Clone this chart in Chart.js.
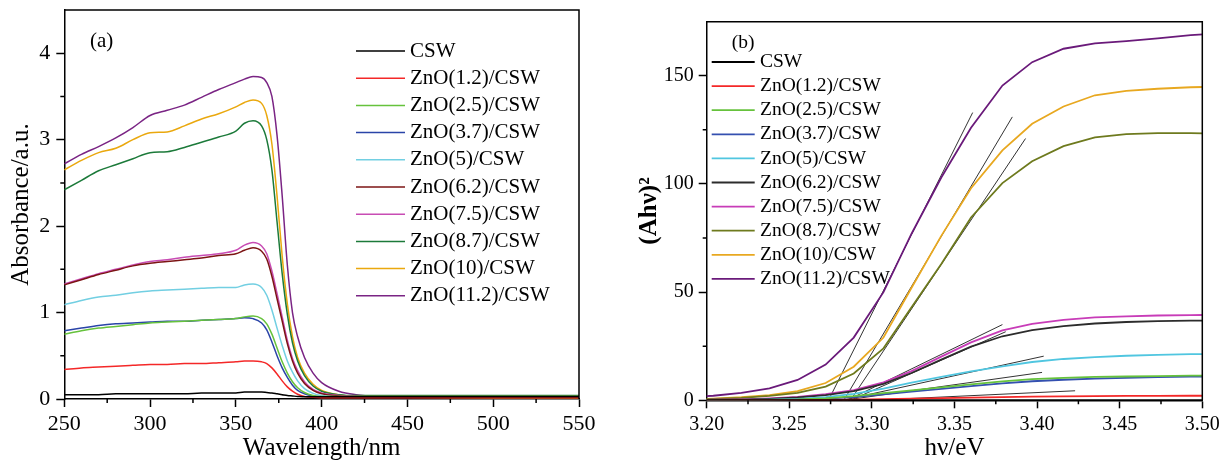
<!DOCTYPE html>
<html>
<head>
<meta charset="utf-8">
<script src="https://cdn.jsdelivr.net/npm/chart.js@4.4.1/dist/chart.umd.min.js"></script>
<style>
  html, body { margin: 0; padding: 0; background: #fff; }
  #wrapA { position: absolute; left: 0; top: 0; }
  #wrapB { position: absolute; left: 610px; top: 0; }
</style>
</head>
<body>
<div id="wrapA"><canvas id="chartA" width="610" height="464"></canvas></div>
<div id="wrapB"><canvas id="chartB" width="619" height="464"></canvas></div>
<script>
// sample names, shared by both panels
const sampleLabels = ["CSW", "ZnO(1.2)/CSW", "ZnO(2.5)/CSW", "ZnO(3.7)/CSW", "ZnO(5)/CSW",
  "ZnO(6.2)/CSW", "ZnO(7.5)/CSW", "ZnO(8.7)/CSW", "ZnO(10)/CSW", "ZnO(11.2)/CSW"]

// (a) UV-vis absorbance spectra
const wavelength = [250, 260, 270, 280, 290, 300, 310, 320, 330, 340,
  350, 355, 360, 365, 368, 371, 374, 377, 380, 383,
  386, 390, 395, 400, 410, 420, 435, 450, 500, 550]
const absCSW = [0.05, 0.05, 0.05, 0.06, 0.06, 0.06, 0.06, 0.06, 0.07, 0.07,
  0.07, 0.08, 0.08, 0.08, 0.075, 0.07, 0.06, 0.05, 0.04, 0.035,
  0.03, 0.025, 0.025, 0.025, 0.025, 0.025, 0.025, 0.025, 0.025, 0.025]
const abs12 = [0.34, 0.36, 0.37, 0.38, 0.39, 0.40, 0.40, 0.41, 0.41, 0.42,
  0.43, 0.44, 0.44, 0.43, 0.41, 0.36, 0.29, 0.21, 0.14, 0.09,
  0.055, 0.03, 0.02, 0.015, 0.015, 0.015, 0.015, 0.015, 0.015, 0.015]
const abs25 = [0.75, 0.79, 0.82, 0.84, 0.86, 0.88, 0.89, 0.90, 0.91, 0.92,
  0.93, 0.95, 0.96, 0.93, 0.87, 0.75, 0.59, 0.43, 0.30, 0.20,
  0.13, 0.075, 0.04, 0.03, 0.03, 0.03, 0.03, 0.03, 0.03, 0.03]
const abs37 = [0.79, 0.82, 0.85, 0.87, 0.88, 0.89, 0.90, 0.90, 0.91, 0.92,
  0.93, 0.94, 0.93, 0.88, 0.80, 0.66, 0.50, 0.36, 0.25, 0.16,
  0.10, 0.06, 0.035, 0.025, 0.02, 0.02, 0.02, 0.02, 0.02, 0.02]
const abs5 = [1.09, 1.14, 1.18, 1.20, 1.23, 1.25, 1.26, 1.27, 1.28, 1.29,
  1.29, 1.32, 1.33, 1.29, 1.20, 1.03, 0.82, 0.62, 0.44, 0.31,
  0.21, 0.12, 0.065, 0.04, 0.025, 0.02, 0.02, 0.02, 0.02, 0.02]
const abs62 = [1.32, 1.38, 1.44, 1.49, 1.54, 1.57, 1.59, 1.61, 1.63, 1.66,
  1.68, 1.72, 1.75, 1.71, 1.62, 1.42, 1.16, 0.90, 0.64, 0.44,
  0.30, 0.18, 0.10, 0.06, 0.035, 0.03, 0.03, 0.03, 0.03, 0.03]
const abs75 = [1.33, 1.39, 1.45, 1.50, 1.55, 1.59, 1.61, 1.64, 1.66, 1.68,
  1.72, 1.78, 1.81, 1.77, 1.68, 1.48, 1.22, 0.95, 0.68, 0.47,
  0.33, 0.20, 0.11, 0.07, 0.04, 0.03, 0.025, 0.025, 0.025, 0.025]
const abs87 = [2.42, 2.53, 2.64, 2.71, 2.78, 2.85, 2.86, 2.91, 2.97, 3.03,
  3.10, 3.19, 3.22, 3.16, 3.00, 2.65, 2.05, 1.45, 0.98, 0.65,
  0.44, 0.27, 0.15, 0.09, 0.05, 0.04, 0.04, 0.04, 0.04, 0.04]
const abs10 = [2.65, 2.76, 2.85, 2.90, 3.00, 3.08, 3.09, 3.16, 3.24, 3.30,
  3.38, 3.43, 3.46, 3.42, 3.28, 2.95, 2.35, 1.65, 1.10, 0.72,
  0.48, 0.30, 0.17, 0.10, 0.05, 0.03, 0.02, 0.02, 0.015, 0.015]
const abs112 = [2.72, 2.83, 2.92, 3.02, 3.14, 3.28, 3.34, 3.40, 3.49, 3.58,
  3.66, 3.70, 3.73, 3.72, 3.66, 3.50, 3.05, 2.35, 1.55, 1.00,
  0.72, 0.48, 0.30, 0.19, 0.09, 0.05, 0.03, 0.025, 0.02, 0.02]

// (b) Tauc plot, (Ahv)^2 against photon energy
const energy = [3.188, 3.204, 3.221, 3.238, 3.255, 3.272, 3.289, 3.307, 3.324, 3.342,
  3.360, 3.379, 3.397, 3.416, 3.435, 3.454, 3.473, 3.493, 3.513]
const taucCSW = [0.02, 0.02, 0.02, 0.03, 0.03, 0.03, 0.04, 0.04, 0.05, 0.05,
  0.05, 0.06, 0.06, 0.06, 0.06, 0.07, 0.07, 0.07, 0.07]
const tauc12 = [0, 0.01, 0.02, 0.04, 0.08, 0.15, 0.3, 0.5, 0.75, 1.0,
  1.25, 1.5, 1.7, 1.85, 1.95, 2.0, 2.05, 2.1, 2.1]
const tauc25 = [0.02, 0.05, 0.1, 0.2, 0.4, 0.9, 1.9, 3.3, 4.6, 6.0,
  7.4, 8.7, 9.8, 10.4, 10.8, 11.0, 11.2, 11.4, 11.5]
const tauc37 = [0.02, 0.04, 0.08, 0.15, 0.35, 0.75, 1.5, 2.8, 4.0, 5.3,
  6.6, 7.8, 8.8, 9.5, 10.0, 10.4, 10.7, 10.9, 11.0]
const tauc5 = [0.05, 0.1, 0.2, 0.35, 0.7, 1.5, 3.0, 5.4, 8.2, 10.8,
  13.4, 15.7, 17.7, 19.1, 20.0, 20.6, 21.0, 21.3, 21.4]
const tauc62 = [0.1, 0.2, 0.35, 0.7, 1.3, 2.4, 4.2, 7.6, 12.6, 18.8,
  24.8, 29.6, 32.4, 34.3, 35.5, 36.2, 36.6, 36.8, 36.9]
const tauc75 = [0.12, 0.25, 0.45, 0.9, 1.6, 2.8, 4.7, 8.3, 13.5, 20.2,
  26.8, 32.3, 35.3, 37.2, 38.3, 38.8, 39.2, 39.4, 39.5]
const tauc87 = [0.3, 0.6, 1.1, 2.0, 3.4, 6.3, 12.4, 24, 43, 63,
  84.5, 100.4, 110.5, 117.5, 121.5, 123, 123.5, 123.5, 123.3]
const tauc10 = [0.4, 0.8, 1.4, 2.4, 4.2, 8.0, 15.5, 29, 52, 76,
  98, 115.5, 127.8, 135.8, 141, 143, 144, 144.7, 145]
const tauc112 = [1.4, 2.1, 3.4, 5.5, 9.4, 16.5, 29, 50, 77, 103,
  126, 145.5, 156.3, 162.5, 165, 166, 167.3, 168.8, 169.6]

// linear fits of the absorption edge: start on the energy axis, end point
const fitStartE = [3.2737, 3.283, 3.287, 3.285, 3.287, 3.282, 3.283, 3.300]
const fitEndE = [3.361, 3.385, 3.393, 3.379, 3.381, 3.404, 3.403, 3.423]
const fitEndY = [133, 131, 121, 35, 31.7, 20.4, 12.9, 4.4]

const colorsA = ["#000000", "#f42828", "#66c23c", "#2a44a8", "#72cfe2",
  "#7c1414", "#c84cb4", "#1c7a3a", "#eaa80e", "#7a2484"]
const colorsB = ["#000000", "#f42828", "#66c23c", "#3450b0", "#50c6e0",
  "#2c2c2c", "#c83cb8", "#6e7a1e", "#e8a820", "#6a1a7a"]

const seriesA = [absCSW, abs12, abs25, abs37, abs5, abs62, abs75, abs87, abs10, abs112]
const seriesB = [taucCSW, tauc12, tauc25, tauc37, tauc5, tauc62, tauc75, tauc87, tauc10, tauc112]

const serif = "'Liberation Serif', 'Times New Roman', serif"

function pairs(xs, ys) {
  return xs.map((x, i) => ({ x: x, y: ys[i] }))
}

// legend drawn inside the plot area
const insideLegend = {
  id: "insideLegend",
  afterDraw(chart, args, opts) {
    const ctx = chart.ctx
    ctx.save()
    ctx.font = opts.font
    ctx.textBaseline = "middle"
    ctx.textAlign = "left"
    let i = 0
    chart.data.datasets.forEach((ds) => {
      if (ds.isFit) return
      const y = opts.y + i * opts.rowHeight
      ctx.strokeStyle = ds.borderColor
      ctx.lineWidth = opts.lineWidth
      ctx.beginPath()
      ctx.moveTo(opts.x, y)
      ctx.lineTo(opts.x + opts.lineLength, y)
      ctx.stroke()
      ctx.fillStyle = "#000"
      ctx.fillText(ds.label, opts.textX, y)
      i++
    })
    if (opts.tag) ctx.fillText(opts.tag, opts.tagX, opts.tagY)
    ctx.restore()
  },
}

// top/right frame plus short minor ticks between the labelled ones
const frameAndMinor = {
  id: "frameAndMinor",
  afterDraw(chart, args, opts) {
    const { ctx, chartArea } = chart
    const xs = chart.scales.x
    const ys = chart.scales.y
    ctx.save()
    ctx.strokeStyle = "#000"
    ctx.lineWidth = 1.5
    ctx.beginPath()
    ctx.moveTo(chartArea.left, chartArea.top)
    ctx.lineTo(chartArea.right, chartArea.top)
    ctx.lineTo(chartArea.right, chartArea.bottom)
    ctx.stroke()
    ctx.beginPath()
    for (let v = xs.min + opts.xMinor; v < xs.max - 1e-9; v += 2 * opts.xMinor) {
      const px = xs.getPixelForValue(v)
      ctx.moveTo(px, chartArea.bottom)
      ctx.lineTo(px, chartArea.bottom + opts.len)
    }
    for (let v = ys.min + opts.yMinor; v < ys.max - 1e-9; v += 2 * opts.yMinor) {
      const py = ys.getPixelForValue(v)
      ctx.moveTo(chartArea.left, py)
      ctx.lineTo(chartArea.left - opts.len, py)
    }
    ctx.stroke()
    ctx.restore()
  },
}

// fixed axis size, and no extra room reserved for half tick labels
function fixSize(prop, size) {
  return (s) => {
    s[prop] = size
    s.paddingTop = 0
    s.paddingBottom = 0
    s.paddingLeft = 0
    s.paddingRight = 0
  }
}

function axis(opts) {
  return {
    type: "linear",
    min: opts.min,
    max: opts.max,
    afterFit: opts.fit,
    ticks: {
      stepSize: opts.step,
      includeBounds: false,
      color: "#000",
      padding: opts.pad,
      font: { family: serif, size: opts.tickSize },
      callback: opts.fmt,
    },
    grid: { drawOnChartArea: false, tickLength: 8, tickColor: "#000", tickWidth: 1.5 },
    border: { color: "#000", width: 1.5 },
    title: {
      display: true,
      text: opts.title,
      color: "#000",
      font: { family: serif, size: 25, weight: opts.bold ? "bold" : "normal", lineHeight: 1.2 },
      padding: opts.titlePad,
    },
  }
}

new Chart(document.getElementById("chartA"), {
  type: "line",
  data: {
    datasets: seriesA.map((ys, i) => ({
      label: sampleLabels[i],
      data: pairs(wavelength, ys),
      borderColor: colorsA[i],
      borderWidth: 1.5,
      pointRadius: 0,
      cubicInterpolationMode: "monotone",
    })),
  },
  options: {
    responsive: false,
    animation: false,
    layout: { padding: { top: 10, right: 31, left: 0, bottom: 0 } },
    plugins: {
      legend: { display: false },
      tooltip: { enabled: false },
      insideLegend: {
        font: "21px " + serif, x: 356, y: 51, rowHeight: 27.2, lineLength: 49, lineWidth: 1.5, textX: 410,
        tag: "(a)", tagX: 90, tagY: 41,
      },
      frameAndMinor: { xMinor: 25, yMinor: 0.5, len: 4 },
    },
    scales: {
      x: axis({
        min: 250, max: 550, step: 50, pad: 4, tickSize: 22, title: "Wavelength/nm",
        titlePad: { top: 0, bottom: 1 }, fit: fixSize("height", 65),
      }),
      y: axis({
        min: 0, max: 4.5, step: 1, pad: 6, tickSize: 22, title: "Absorbance/a.u.",
        titlePad: { top: 6, bottom: 0 }, fit: fixSize("width", 64.3),
      }),
    },
  },
  plugins: [insideLegend, frameAndMinor],
})

const taucSets = seriesB.map((ys, i) => ({
  label: sampleLabels[i],
  data: pairs(energy, ys),
  borderColor: colorsB[i],
  borderWidth: 1.8,
  pointRadius: 0,
  tension: 0,
}))
const fitSets = fitStartE.map((e0, i) => ({
  isFit: true,
  data: [{ x: e0, y: 0 }, { x: fitEndE[i], y: fitEndY[i] }],
  borderColor: "#333333",
  borderWidth: 1,
  pointRadius: 0,
}))

new Chart(document.getElementById("chartB"), {
  type: "line",
  data: { datasets: taucSets.concat(fitSets) },
  options: {
    responsive: false,
    animation: false,
    layout: { padding: { top: 21.7, right: 26.7, left: 0, bottom: 0 } },
    plugins: {
      legend: { display: false },
      tooltip: { enabled: false },
      insideLegend: {
        font: "19.5px " + serif, x: 101.7, y: 62, rowHeight: 24.1, lineLength: 43, lineWidth: 1.8, textX: 150,
        tag: "(b)", tagX: 121.7, tagY: 42.7,
      },
      frameAndMinor: { xMinor: 0.025, yMinor: 25, len: 4 },
    },
    scales: {
      x: axis({
        min: 3.2, max: 3.5, step: 0.05, pad: 4, tickSize: 20, title: "hν/eV",
        titlePad: { top: 0, bottom: 1 }, fit: fixSize("height", 63.7),
        fmt: (v) => v.toFixed(2),
      }),
      y: axis({
        min: 0, max: 175, step: 50, pad: 5, tickSize: 20, title: "(Ahν)²", bold: true,
        titlePad: { top: 24.5, bottom: 0 }, fit: fixSize("width", 96.7),
      }),
    },
  },
  plugins: [insideLegend, frameAndMinor],
})
</script>
</body>
</html>
